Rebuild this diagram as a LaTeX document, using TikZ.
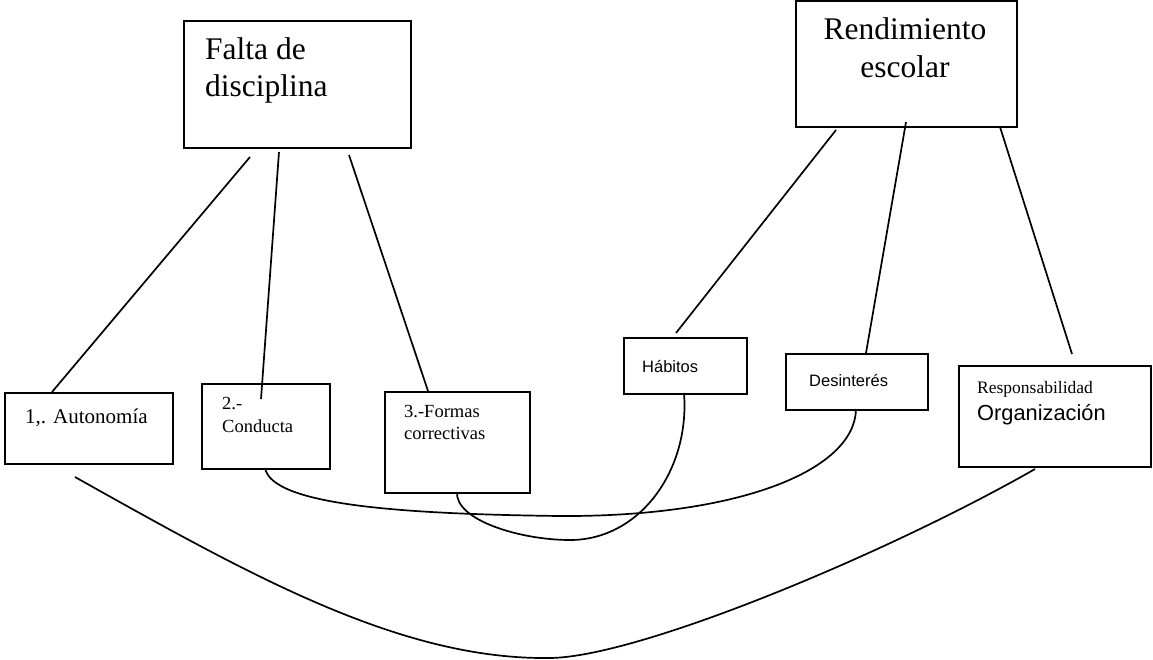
\documentclass[tikz,border=0pt]{standalone}
\usepackage{fontspec}
\setmainfont{Liberation Serif}
\newfontfamily\arialfont{Liberation Sans}
\begin{document}
\begin{tikzpicture}[x=1pt,y=-1pt,
  box/.style={draw,line width=2pt,inner sep=0pt,anchor=north west},
  lbl/.style={inner sep=0pt,anchor=base west},
  conn/.style={line width=1.7pt}]
\useasboundingbox (0,0) rectangle (1153,659);
% boxes
\node[box,minimum width=227pt,minimum height=127pt] (falta) at (183,20) {};
\node[box,minimum width=221pt,minimum height=126pt] (rend) at (795,0) {};
\node[box,minimum width=168pt,minimum height=71pt] (auto) at (4,392) {};
\node[box,minimum width=128pt,minimum height=85pt] (cond) at (201,383) {};
\node[box,minimum width=145pt,minimum height=101pt] (form) at (384,391) {};
\node[box,minimum width=123pt,minimum height=56pt] (habi) at (623,337) {};
\node[box,minimum width=142pt,minimum height=56pt] (desi) at (785,353) {};
\node[box,minimum width=192pt,minimum height=101pt] (resp) at (958,365) {};
% texts
\node[lbl,font=\fontsize{31.5}{36}\selectfont] (t1) at (205,59) {Falta de};
\node[lbl,font=\fontsize{31.5}{36}\selectfont] (t2) at (205,96) {disciplina};
\node[inner sep=0pt,anchor=base,font=\fontsize{31.5}{36}\selectfont] (t3) at (905,39) {Rendimiento};
\node[inner sep=0pt,anchor=base,font=\fontsize{31.5}{36}\selectfont] (t4) at (905,77) {escolar};
\node[lbl,font=\fontsize{21}{24}\selectfont] (t5) at (25,423) {1,. Autonomía};
\node[lbl,font=\fontsize{18.5}{22}\selectfont] (t6) at (222,409) {2.-};
\node[lbl,font=\fontsize{18.5}{22}\selectfont] (t7) at (222,432) {Conducta};
\node[lbl,font=\fontsize{18.5}{22}\selectfont] (t8) at (404,417) {3.-Formas};
\node[lbl,font=\fontsize{18.5}{22}\selectfont] (t9) at (404,439) {correctivas};
\node[lbl,font=\arialfont\fontsize{16.5}{20}\selectfont] (t10) at (642,372) {Hábitos};
\node[lbl,font=\arialfont\fontsize{16.5}{20}\selectfont] (t11) at (809,386) {Desinterés};
\node[lbl,font=\fontsize{17.5}{21}\selectfont] (t12) at (977,393) {Responsabilidad};
\node[lbl,font=\arialfont\fontsize{21.8}{24}\selectfont] (t13) at (977,420) {Organización};
% connector end coordinates
\coordinate (f1) at (250,157);
\coordinate (f2) at (279,152);
\coordinate (f3) at (349,155);
\coordinate (a1) at (52,392);
\coordinate (c1) at (261,399);
\coordinate (o1) at (428,391);
\coordinate (r1) at (836,130);
\coordinate (r2) at (906,122);
\coordinate (r3) at (1000,127);
\coordinate (h1) at (676,333);
\coordinate (d1) at (866,353);
\coordinate (s1) at (1072,354);
\coordinate (cb) at (265,468);
\coordinate (db) at (856,409);
\coordinate (ob) at (457,492);
\coordinate (hb) at (684,393);
\coordinate (ab) at (75,477);
\coordinate (sb) at (1035,469);
% straight connectors
\draw[conn] (f1) -- (a1);
\draw[conn] (f2) -- (c1);
\draw[conn] (f3) -- (o1);
\draw[conn] (r1) -- (h1);
\draw[conn] (r2) -- (d1);
\draw[conn] (r3) -- (s1);
% curves
\draw[conn] (cb) .. controls (272,505) and (400,514) .. (560,516)
  .. controls (740,517) and (855,470) .. (db);
\draw[conn] (ob) .. controls (455,520) and (520,540) .. (570,540)
  .. controls (640,540) and (690,470) .. (hb);
\draw[conn] (ab) .. controls (250,575) and (400,660) .. (550,658)
  .. controls (640,657) and (890,552) .. (sb);
\end{tikzpicture}
\end{document}
